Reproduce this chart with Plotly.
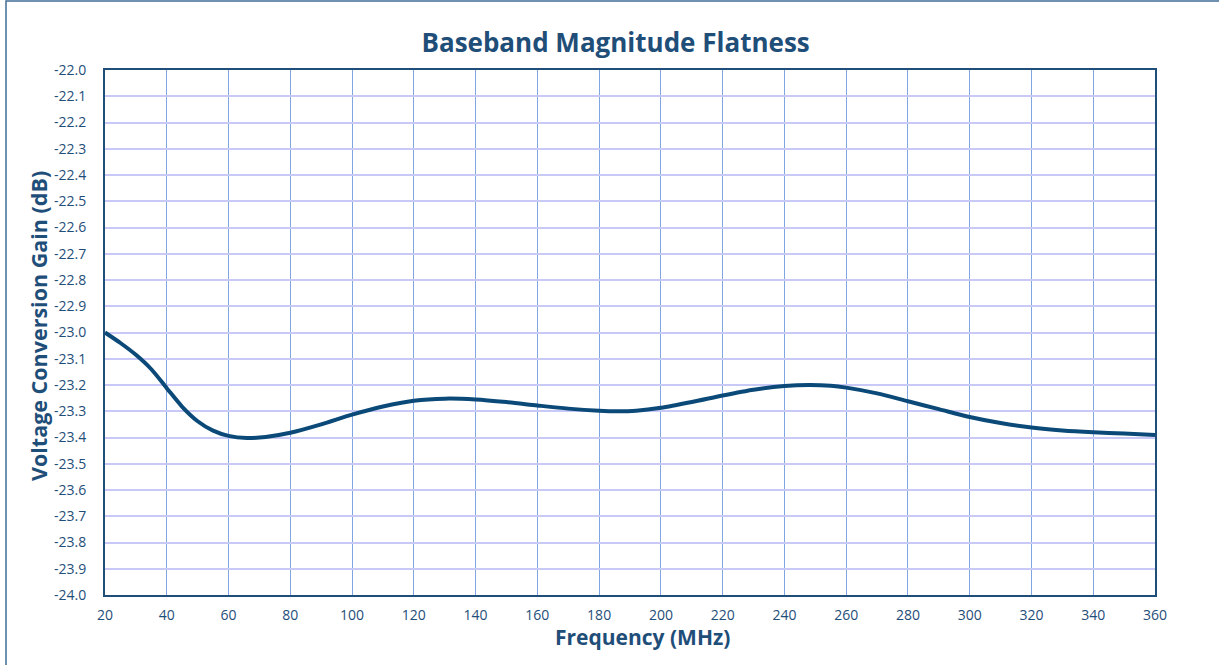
import plotly.graph_objects as go

freq_mhz = [20, 25, 30, 35, 40, 45, 50, 55, 60, 66, 72, 80, 90, 100, 110, 120, 130, 140, 150, 160, 170, 180, 186, 192, 200, 210, 220, 230, 240, 248, 255, 260, 270, 280, 290, 300, 310, 320, 330, 340, 350, 360]
gain_db = [-23.00, -23.04, -23.085, -23.14, -23.212, -23.283, -23.338, -23.374, -23.394, -23.402, -23.398, -23.382, -23.35, -23.313, -23.282, -23.26, -23.252, -23.255, -23.265, -23.278, -23.29, -23.298, -23.30, -23.298, -23.287, -23.265, -23.24, -23.218, -23.204, -23.200, -23.203, -23.21, -23.232, -23.262, -23.292, -23.322, -23.345, -23.362, -23.373, -23.38, -23.385, -23.39]

x_ticks = list(range(20, 361, 20))
y_ticks = [round(-24.0 + 0.1 * i, 1) for i in range(21)]

dark = "#1F4E79"
font_family = "Open Sans, Noto Sans, sans-serif"

W, H = 1219, 665
L, R, T, B = 105, 64, 70, 70
pw, ph = W - L - R, H - T - B

def px_to_paper_x(px):
    return (px - L) / pw

def px_to_paper_y(py):
    return (H - B - py) / ph

fig = go.Figure()
fig.add_trace(go.Scatter(
    x=freq_mhz, y=gain_db, mode="lines",
    line=dict(color="#0B4A78", width=4, shape="spline", smoothing=0.8),
    hoverinfo="x+y", showlegend=False,
))

fig.update_layout(
    width=W, height=H,
    paper_bgcolor="white", plot_bgcolor="white",
    margin=dict(l=L, r=R, t=T, b=B),
    title=dict(text="<b>Baseband Magnitude Flatness</b>", x=0.505, xanchor="center",
               y=0.935, yanchor="middle",
               font=dict(family=font_family, size=26, color=dark)),
    font=dict(family=font_family, color=dark),
    xaxis=dict(
        range=[20, 360], tickvals=x_ticks, ticktext=[str(v) for v in x_ticks],
        showgrid=True, gridcolor="#7FA6E3", gridwidth=1.2,
        showline=True, linecolor=dark, linewidth=2, mirror=True,
        ticks="", tickfont=dict(size=14, color=dark), ticklabelstandoff=6,
        zeroline=False,
    ),
    yaxis=dict(
        range=[-24.0, -22.0], tickvals=y_ticks, ticktext=[f"{v:.1f}" for v in y_ticks],
        showgrid=True, gridcolor="#C9C9F7", gridwidth=1.5,
        showline=True, linecolor=dark, linewidth=2, mirror=True,
        ticks="", tickfont=dict(size=14, color=dark), ticklabelstandoff=14,
        zeroline=False,
    ),
    annotations=[
        dict(text="<b>Frequency (MHz)</b>", xref="paper", yref="paper",
             x=px_to_paper_x(642), y=px_to_paper_y(637), xanchor="center", yanchor="middle",
             showarrow=False, font=dict(family=font_family, size=21, color=dark)),
        dict(text="<b>Voltage Conversion Gain (dB)</b>", xref="paper", yref="paper",
             x=px_to_paper_x(38), y=px_to_paper_y(326), xanchor="center", yanchor="middle",
             textangle=-90, showarrow=False, font=dict(family=font_family, size=21.5, color=dark)),
    ],
    shapes=[dict(type="rect", xref="paper", yref="paper",
                 x0=px_to_paper_x(6), x1=1.2, y0=-0.3, y1=px_to_paper_y(1),
                 line=dict(color="#3F6E96", width=1.5), fillcolor="rgba(0,0,0,0)", layer="below")],
)

fig.write_html("out.html", config={"displayModeBar": False},
               post_script="document.body.style.margin='0';")
